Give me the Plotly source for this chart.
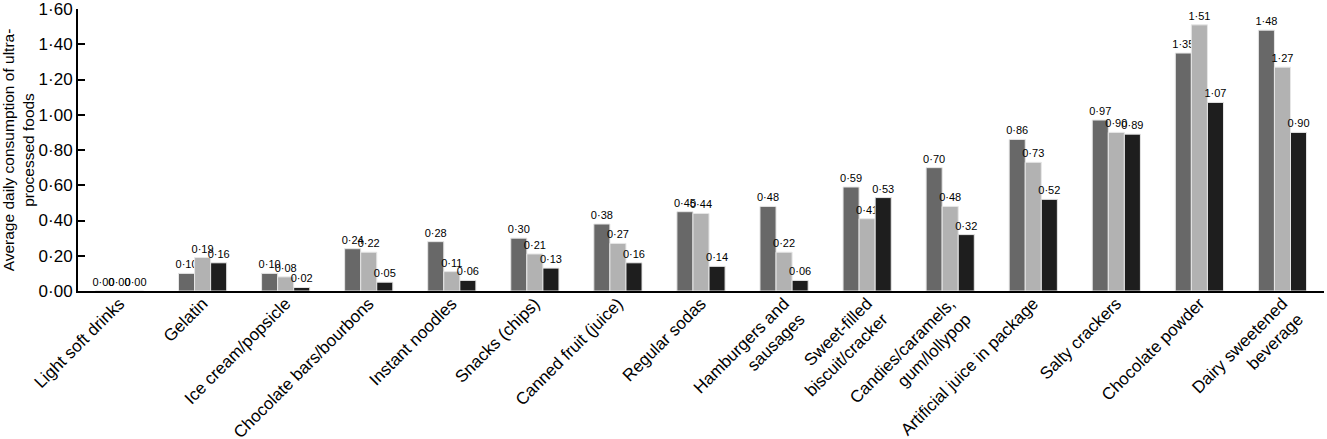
import plotly.graph_objects as go

categories = ["Light soft drinks", "Gelatin", "Ice cream/popsicle", "Chocolate bars/bourbons",
              "Instant noodles", "Snacks (chips)", "Canned fruit (juice)", "Regular sodas",
              "Hamburgers and<br>sausages", "Sweet-filled<br>biscuit/cracker",
              "Candies/caramels,<br>gum/lollypop", "Artificial juice in package",
              "Salty crackers", "Chocolate powder", "Dairy sweetened<br>beverage"]
series1 = [0.00, 0.10, 0.10, 0.24, 0.28, 0.30, 0.38, 0.45, 0.48, 0.59, 0.70, 0.86, 0.97, 1.35, 1.48]
series2 = [0.00, 0.19, 0.08, 0.22, 0.11, 0.21, 0.27, 0.44, 0.22, 0.41, 0.48, 0.73, 0.90, 1.51, 1.27]
series3 = [0.00, 0.16, 0.02, 0.05, 0.06, 0.13, 0.16, 0.14, 0.06, 0.53, 0.32, 0.52, 0.89, 1.07, 0.90]
series_names = ["Series 1", "Series 2", "Series 3"]
colors = ["#686868", "#b2b2b2", "#1e1e1e"]
yticks = [0.0, 0.2, 0.4, 0.6, 0.8, 1.0, 1.2, 1.4, 1.6]

def fmt(v):
    return f"{v:.2f}".replace(".", "·")

fig = go.Figure()
for name, vals, col in zip(series_names, [series1, series2, series3], colors):
    fig.add_trace(go.Bar(
        x=categories, y=vals, name=name,
        marker=dict(color=col, line=dict(color="#e6e6e6", width=1)),
        text=[fmt(v) for v in vals], textposition="outside",
        textfont=dict(family="Liberation Sans, Arial, sans-serif", size=11, color="#000000"),
        constraintext="none", cliponaxis=False,
    ))

fig.update_layout(
    width=1327, height=439,
    barmode="group", bargap=0.42, bargroupgap=0,
    showlegend=False,
    plot_bgcolor="white", paper_bgcolor="white",
    margin=dict(l=78, r=3, t=9, b=148),
    font=dict(family="Liberation Sans, Arial, sans-serif", color="#000000"),
    xaxis=dict(
        tickangle=-45, tickfont=dict(size=17),
        showline=True, linecolor="black", linewidth=2,
        ticks="",
        showgrid=False, automargin=False, ticklabeloverflow="allow",
        ticklabelstandoff=-6,
    ),
    yaxis=dict(
        range=[0, 1.6], tickvals=yticks, ticktext=[fmt(v) for v in yticks],
        tickfont=dict(size=17),
        showline=True, linecolor="black", linewidth=2,
        ticks="inside", ticklen=7, tickcolor="black", tickwidth=1.5,
        showgrid=False, zeroline=False, automargin=False, ticklabeloverflow="allow",
        title=dict(text="Average daily consumption of ultra-<br>processed foods",
                   font=dict(size=15.5), standoff=4),
    ),
)

fig.write_html("out.html", config={"displayModeBar": False},
               post_script="document.body.style.margin='0';")
